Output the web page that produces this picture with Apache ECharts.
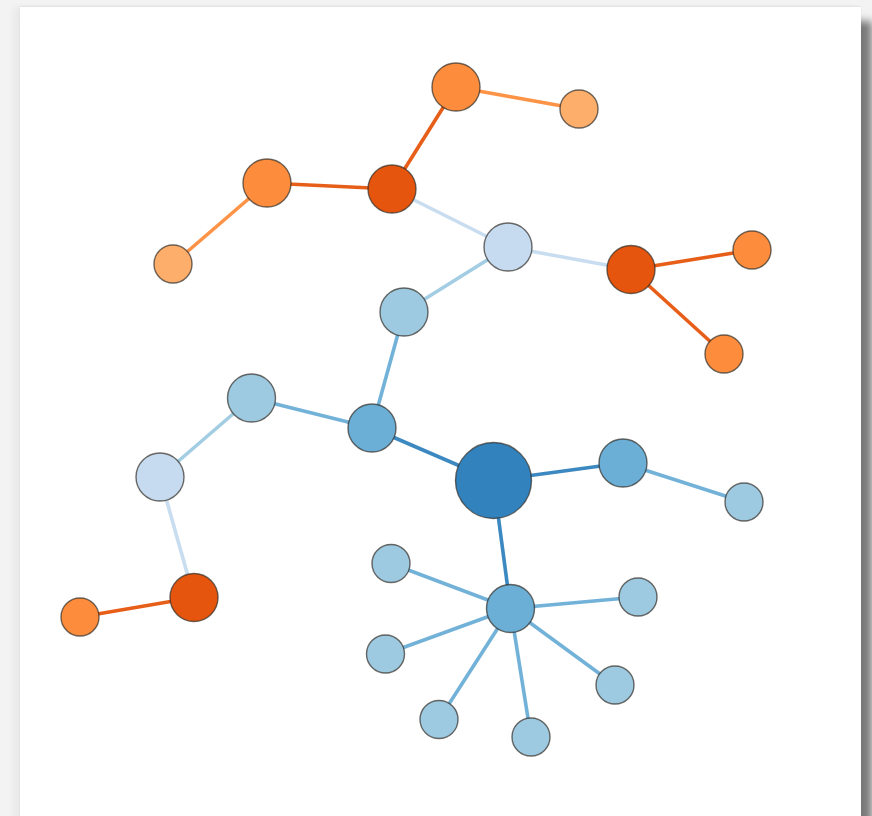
<!DOCTYPE html>
<html>
<head>
<meta charset="utf-8">
<script src="https://cdn.jsdelivr.net/npm/echarts@6/dist/echarts.min.js"></script>
<style>
  html, body { margin: 0; padding: 0; width: 872px; height: 816px; overflow: hidden; background: #f3f3f3; }
  #card { position: absolute; left: 20px; top: 7px; width: 841px; height: 900px; background: #fff;
          box-shadow: 11px 14px 8px rgba(0,0,0,0.5), -7px 0 6px rgba(0,0,0,0.04), 0 -1px 2px rgba(0,0,0,0.07); }
  #chart { position: absolute; left: 0; top: 0; width: 872px; height: 816px; }
</style>
</head>
<body>
<div id="card"></div>
<div id="chart"></div>
<script>
// Node data (category20c palette groups)
const palette = ['#3182bd', '#6baed6', '#9ecae1', '#c6dbef', '#e6550d', '#fd8d3c', '#fdae6b'];
const nodeNames = ['n1','n2','n3','n4','n5','n6','n7','n8','n9','n10','n11','n12','n13','n14','n15','n16','n17','n18','n19','n20','n21','n22','n23','n24','n25'];
const nodeX = [456, 579, 392, 267, 173, 508, 631, 752, 724, 404, 251.5, 372, 493.5, 623, 744, 160, 194, 80, 510.5, 391, 638, 385.5, 615, 439, 531];
const nodeY = [87, 109, 189, 183, 264, 247, 269.5, 250, 354, 312, 398, 428, 480.5, 463, 502, 477, 597.5, 617, 608.5, 563.5, 597, 654, 685, 719.5, 737];
const nodeGroup = [5, 6, 4, 5, 6, 3, 4, 5, 5, 2, 2, 1, 0, 1, 2, 3, 4, 5, 1, 2, 2, 2, 2, 2, 2];
// kind: 0 = root, 1 = inner node, 2 = leaf
const nodeKind = [1, 2, 1, 1, 2, 1, 1, 2, 2, 1, 1, 1, 0, 1, 2, 1, 1, 2, 1, 2, 2, 2, 2, 2, 2];
// links: [parent, child] (0-based indices)
const linkPairs = [
  [12, 11], [12, 13], [12, 18],
  [11, 9], [11, 10],
  [9, 5],
  [5, 2], [5, 6],
  [2, 0], [2, 3],
  [0, 1], [3, 4],
  [6, 7], [6, 8],
  [10, 15], [15, 16], [16, 17],
  [13, 14],
  [18, 19], [18, 20], [18, 21], [18, 22], [18, 23], [18, 24]
];

const kindSize = [76, 48, 38];

const nodes = nodeNames.map((n, i) => ({
  name: n,
  value: [nodeX[i], nodeY[i]],
  symbolSize: kindSize[nodeKind[i]],
  itemStyle: { color: palette[nodeGroup[i]] }
}));
const links = linkPairs.map(([s, t]) => ({
  source: s, target: t,
  lineStyle: { color: palette[nodeGroup[s]] }
}));

const chart = echarts.init(document.getElementById('chart'), null, { renderer: 'canvas' });
chart.setOption({
  animation: false,
  backgroundColor: 'transparent',
  grid: { left: 0, right: 0, top: 0, bottom: 0 },
  xAxis: { type: 'value', min: 0, max: 872, show: false },
  yAxis: { type: 'value', min: 0, max: 816, inverse: true, show: false },
  series: [{
    type: 'graph',
    coordinateSystem: 'cartesian2d',
    layout: 'none',
    symbol: 'circle',
    data: nodes,
    links: links,
    itemStyle: { borderColor: 'rgba(50,45,40,0.7)', borderWidth: 1.4 },
    lineStyle: { width: 3.6, opacity: 0.95, curveness: 0 },
    label: { show: false },
    emphasis: { disabled: true }
  }]
});
</script>
</body>
</html>
